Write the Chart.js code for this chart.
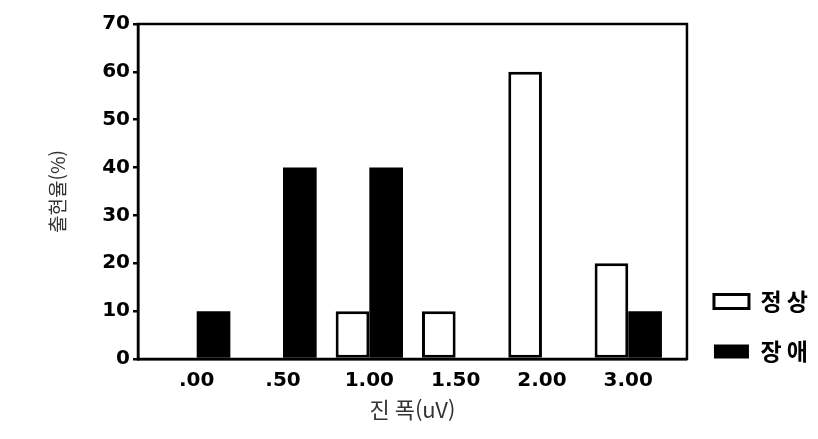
<!DOCTYPE html>
<html lang="ko">
<head>
    <meta charset="UTF-8">
    <title>진폭별 출현율</title>
    <script src="https://cdn.jsdelivr.net/npm/chart.js@4.4.1/dist/chart.umd.min.js"></script>
    <style>
        html, body { margin: 0; padding: 0; background: #fff; }
        #wrap { width: 818px; height: 439px; }
    </style>
</head>
<body>
    <div id="wrap"><canvas id="grafica"></canvas></div>

    <script>
        // datos
        const categorias = [".00", ".50", "1.00", "1.50", "2.00", "3.00"];
        const normal = [0, 0, 10, 10, 60, 20];     // 정상
        const trastorno = [10, 40, 40, 0, 0, 10];  // 장애
        const ticksY = [0, 10, 20, 30, 40, 50, 60, 70];

        const fuenteNum = { family: "'DejaVu Sans', sans-serif", size: 20, weight: "bold" };

        // marco negro alrededor del area del grafico
        const marco = {
            id: "marco",
            afterDraw(chart) {
                const a = chart.chartArea;
                const ctx = chart.ctx;
                ctx.save();
                ctx.strokeStyle = "#000";
                ctx.lineWidth = 2.5;
                ctx.strokeRect(a.left, a.top, a.right - a.left, a.bottom - a.top);
                ctx.restore();
            }
        };

        new Chart(document.getElementById("grafica"), {
            type: "bar",
            data: {
                datasets: [{
                    label: "정 상",
                    data: normal.map((v, i) => ({ x: i, y: v })),
                    backgroundColor: "#fff",
                    borderColor: "#000",
                    borderWidth: 3,
                    borderSkipped: false
                }, {
                    label: "장 애",
                    data: trastorno.map((v, i) => ({ x: i, y: v })),
                    backgroundColor: "#000",
                    borderColor: "#000",
                    borderWidth: 0
                }]
            },
            options: {
                responsive: true,
                maintainAspectRatio: false,
                animation: false,
                categoryPercentage: 0.78,
                barPercentage: 1,
                layout: { padding: { left: 46, top: 24, right: 0, bottom: 16 } },
                plugins: {
                    tooltip: { enabled: false },
                    legend: {
                        position: "right",
                        align: "start",
                        maxWidth: 134,
                        title: {
                            display: true,
                            text: " ",
                            font: { size: 10 },
                            padding: { top: 227, bottom: 0 }
                        },
                        labels: {
                            boxWidth: 35,
                            boxHeight: 14,
                            padding: 27,
                            color: "#000",
                            font: { family: "'Noto Sans CJK KR', sans-serif", size: 23, weight: "bold" }
                        }
                    }
                },
                scales: {
                    x: {
                        type: "linear",
                        offset: false,
                        min: -0.68,
                        max: 5.68,
                        afterBuildTicks: s => { s.ticks = categorias.map((_, i) => ({ value: i })); },
                        afterFit: s => { s.height = 64; },
                        grid: { display: false, offset: false },
                        border: { display: true, color: "#000", width: 2.5 },
                        ticks: {
                            color: "#000",
                            font: fuenteNum,
                            padding: 2,
                            autoSkip: false,
                            maxRotation: 0,
                            callback: v => categorias[v]
                        },
                        title: {
                            display: true,
                            text: "진 폭(uV)",
                            color: "#333",
                            font: { family: "'Noto Sans CJK KR', sans-serif", size: 22 },
                            padding: 0
                        }
                    },
                    y: {
                        min: 0,
                        max: 70,
                        afterBuildTicks: s => { s.ticks = ticksY.map(v => ({ value: v })); },
                        afterFit: s => { s.width = 92; },
                        grid: {
                            drawOnChartArea: false,
                            drawTicks: true,
                            tickLength: 5,
                            color: "#000",
                            lineWidth: 2.5
                        },
                        border: { display: true, color: "#000", width: 2.5 },
                        ticks: { color: "#000", font: fuenteNum, padding: 3 },
                        title: {
                            display: true,
                            text: "출현율(%)",
                            color: "#333",
                            font: { family: "'Noto Sans CJK KR', sans-serif", size: 19 },
                            padding: { top: 0, bottom: 0 }
                        }
                    }
                }
            },
            plugins: [marco]
        });
    </script>
</body>
</html>
